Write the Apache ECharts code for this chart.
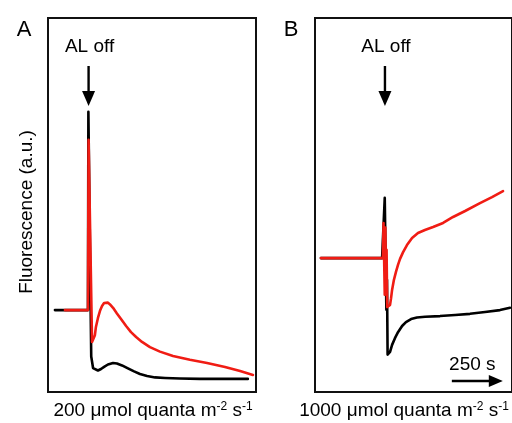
<!DOCTYPE html>
<html>
<head>
<meta charset="utf-8">
<script src="https://cdn.jsdelivr.net/npm/echarts@6/dist/echarts.min.js"></script>
<style>
  html, body { margin: 0; padding: 0; background: #fff; }
  #chart { width: 512px; height: 423px; }
</style>
</head>
<body>
<div id="chart"></div>
<script>
// Chlorophyll fluorescence after the actinic light (AL) is switched off.
// Time in seconds, fluorescence in arbitrary units (0-100).

// Panel A: 200 umol quanta m-2 s-1
const panelA_black = [
  [34, 21.9], [196, 21.9], [198, 74.9], [201, 74.9], [212, 9.5], [221, 6.4],
  [230, 5.9], [245, 5.75], [260, 6.15], [275, 6.7], [294, 7.35], [319, 7.75],
  [338, 7.6], [363, 7.1], [392, 6.3], [422, 5.5], [451, 4.8], [486, 4.3],
  [525, 3.9], [574, 3.75], [647, 3.6], [745, 3.5], [892, 3.5], [980, 3.5]
];
const panelA_red = [
  [83, 21.9], [196, 21.9], [199, 67.4], [205, 67.4], [216, 13.4], [225, 13.6],
  [230, 15.2], [235, 17.4], [245, 19.8], [255, 21.7], [265, 23.0], [275, 23.8],
  [284, 24.06], [294, 23.9], [304, 23.4], [319, 22.5], [338, 21.0], [358, 19.5],
  [383, 17.65], [407, 16.0], [432, 14.7], [461, 13.4], [500, 12.0], [549, 10.8],
  [613, 9.6], [696, 8.6], [780, 7.75], [868, 6.7], [942, 5.6], [1005, 4.55]
];

// Panel B: 1000 umol quanta m-2 s-1
const panelB_black = [
  [29, 35.8], [329, 35.8], [342, 51.9], [345, 51.9], [350, 22.0], [353, 30.0],
  [356, 10.0], [360, 9.9],
  [368, 10.7], [378, 12.6], [392, 14.4], [407, 16.0], [427, 17.65], [446, 18.7],
  [471, 19.5], [500, 19.9], [540, 20.1], [613, 20.3], [687, 20.6], [760, 20.9],
  [834, 21.4], [907, 21.9], [956, 22.5]
];
const panelB_red = [
  [29, 35.8], [333, 35.8], [336, 45.2], [339, 45.2], [342, 26.0], [345, 44.0],
  [348, 30.0], [351, 38.0], [354, 22.7], [362, 22.7], [368, 23.3], [373, 25.1], [378, 27.3],
  [387, 30.0], [397, 32.1], [407, 34.0], [417, 35.6], [432, 37.4], [451, 39.3],
  [476, 41.2], [505, 42.5], [539, 43.3], [579, 44.1], [628, 45.2], [677, 46.8],
  [736, 48.4], [809, 50.5], [868, 52.1], [922, 53.7]
];

const panelLetters = ['A', 'B'];
const lightLevels = ['200', '1000'];
const offTimes = [199, 343];        // moment the light goes off in each panel
const scaleBar = [671, 921];        // 250 s time bar in panel B
const scaleLabel = '250 s';
const yTitle = 'Fluorescence (a.u.)';
const offLabel = 'AL off';

const FONT = '"Liberation Sans", Arial, Helvetica, sans-serif';
const chart = echarts.init(document.getElementById('chart'));

// panel B runs past the right edge of the page; same s-per-pixel in both
const grids = [
  { left: 48, top: 18, width: 208, height: 374 },
  { left: 315, top: 18, width: 197, height: 374 }
];
const xMax = [1020, 966];

chart.setOption({
  animation: false,
  backgroundColor: '#fff',
  grid: grids.map(g => Object.assign({ show: true, borderColor: '#111', borderWidth: 2, backgroundColor: 'transparent' }, g)),
  xAxis: [0, 1].map(i => ({ type: 'value', gridIndex: i, min: 0, max: xMax[i], show: false })),
  yAxis: [0, 1].map(i => ({ type: 'value', gridIndex: i, min: 0, max: 100, show: false })),
  series: [
    [panelA_black, '#000', 0], [panelA_red, '#f01c14', 0],
    [panelB_black, '#000', 1], [panelB_red, '#f01c14', 1]
  ].map(([d, c, i]) => ({
    type: 'line', data: d, xAxisIndex: i, yAxisIndex: i,
    showSymbol: false, smooth: false, clip: true,
    lineStyle: { color: c, width: 2.6, join: 'round', cap: 'round' }
  }))
});

// Annotations placed from the axis scales
function arrowDown(x, yTop, yBottom) {
  return [
    { type: 'line', shape: { x1: x, y1: yTop, x2: x, y2: yBottom - 12 }, style: { stroke: '#000', lineWidth: 2.4 } },
    { type: 'polygon', shape: { points: [[x - 6.5, yBottom - 15], [x + 6.5, yBottom - 15], [x, yBottom]] }, style: { fill: '#000' } }
  ];
}

const g = [];
panelLetters.forEach((letter, i) => {
  const xOff = chart.convertToPixel({ xAxisIndex: i, yAxisIndex: i }, [offTimes[i], 0])[0];
  g.push({ type: 'text', style: { text: letter, x: grids[i].left - 24, y: 19, font: '22px ' + FONT, fill: '#000', textAlign: 'center', textVerticalAlign: 'top', align: 'center', verticalAlign: 'top' } });
  g.push({ type: 'text', style: { text: offLabel, x: xOff + 1, y: 37, font: '19px ' + FONT, fill: '#000', textAlign: 'center', textVerticalAlign: 'top', align: 'center', verticalAlign: 'top' } });
  arrowDown(xOff, 66, 106).forEach(e => g.push(e));
  const cx = i === 0 ? grids[0].left + grids[0].width / 2 + 1 : 404;
  g.push({
    type: 'text',
    style: {
      text: lightLevels[i] + ' \u03bcmol quanta m{sup|-2} s{sup|-1}',
      x: cx, y: 401,
      font: '19px ' + FONT, fill: '#000',
      textAlign: 'center', textVerticalAlign: 'top', align: 'center', verticalAlign: 'top',
      rich: { sup: { fontSize: 12, fontFamily: FONT, verticalAlign: 'top', lineHeight: 12, fill: '#000' } }
    }
  });
});

// y-axis title
g.push({ type: 'text', rotation: Math.PI / 2, x: 27, y: 212, style: { text: yTitle, x: 0, y: 0, font: '19px ' + FONT, fill: '#000', textAlign: 'center', textVerticalAlign: 'middle', align: 'center', verticalAlign: 'middle' } });

// 250 s time bar
const sb0 = chart.convertToPixel({ xAxisIndex: 1, yAxisIndex: 1 }, [scaleBar[0], 0])[0];
const sb1 = chart.convertToPixel({ xAxisIndex: 1, yAxisIndex: 1 }, [scaleBar[1], 0])[0];
const sbY = 381;
g.push({ type: 'line', shape: { x1: sb0, y1: sbY, x2: sb1 - 12, y2: sbY }, style: { stroke: '#000', lineWidth: 2.4 } });
g.push({ type: 'polygon', shape: { points: [[sb1 - 14, sbY - 6], [sb1 - 14, sbY + 6], [sb1, sbY]] }, style: { fill: '#000' } });
g.push({ type: 'text', style: { text: scaleLabel, x: (sb0 + sb1) / 2 - 5, y: 355, font: '19px ' + FONT, fill: '#000', textAlign: 'center', textVerticalAlign: 'top', align: 'center', verticalAlign: 'top' } });

chart.setOption({ graphic: { elements: g } });
</script>
</body>
</html>
